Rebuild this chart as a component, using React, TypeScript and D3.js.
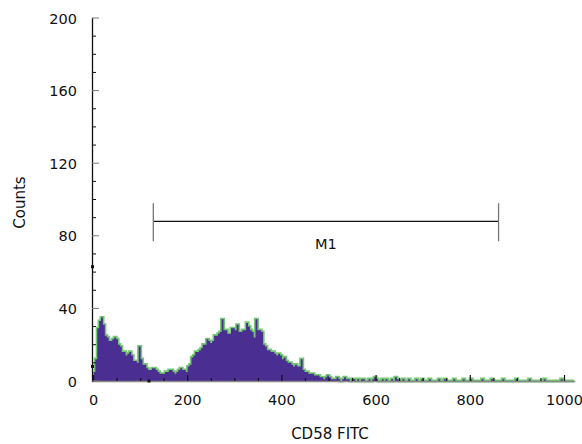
import React from 'react';
import * as d3 from 'd3';

// histogram counts, 4 channels per bin (channel 0..1023)
const counts = [
  5, 12, 29, 33, 35, 31, 25, 24, 22, 22, 23, 24, 23, 20, 19, 16,
  16, 14, 15, 16, 14, 11, 11, 10, 19, 12, 9, 9, 7, 6, 6, 7,
  7, 6, 5, 4, 4, 4, 5, 5, 6, 6, 5, 4, 5, 6, 7, 6,
  6, 5, 8, 9, 13, 14, 16, 16, 17, 18, 20, 20, 23, 22, 21, 22,
  25, 25, 26, 27, 34, 28, 28, 26, 26, 29, 29, 28, 31, 27, 27, 28,
  28, 32, 30, 28, 27, 24, 34, 28, 28, 27, 20, 19, 17, 17, 16, 16,
  15, 14, 15, 14, 12, 13, 11, 10, 10, 9, 8, 9, 8, 8, 12, 6,
  5, 5, 4, 4, 4, 3, 3, 3, 2, 2, 1, 2, 3, 2, 1, 1,
  1, 2, 1, 0, 1, 2, 1, 1, 0, 1, 1, 0, 1, 0, 1, 1,
  0, 0, 1, 0, 1, 2, 1, 0, 0, 1, 0, 1, 0, 0, 1, 0,
  2, 1, 0, 0, 1, 0, 0, 1, 0, 0, 0, 1, 0, 0, 1, 0,
  0, 0, 1, 0, 0, 0, 0, 1, 0, 0, 1, 0, 0, 0, 0, 1,
  0, 0, 0, 0, 1, 0, 0, 0, 1, 0, 0, 0, 0, 0, 1, 0,
  0, 0, 0, 1, 0, 0, 0, 0, 0, 1, 0, 0, 0, 0, 0, 0,
  1, 0, 0, 0, 0, 0, 0, 1, 0, 0, 0, 0, 0, 0, 0, 1,
  0, 0, 0, 0, 0, 0, 0, 0, 1, 0, 0, 0, 0, 0, 0, 0,
];
const binWidth = 4;
const xTickLabels = [0, 200, 400, 600, 800, 1000];
const yTickLabels = [0, 40, 80, 120, 160, 200];
// marker M1: channel range and height
const marker = { name: 'M1', from: 127, to: 860, at: 88 };
// stray dots of the original plot
const dots = [[0, 63], [0, 8], [120, 0]];

const W = 582;
const H = 444;
const FONT = 'DejaVu Sans, Verdana, sans-serif';

export default function App() {
  const x = d3.scaleLinear().domain([0, 1000]).range([93.5, 564.5]);
  const y = d3.scaleLinear().domain([0, 200]).range([381, 18]);

  const pts: [number, number][] = counts.map((c, i) => [i * binWidth, c]);
  pts.push([counts.length * binWidth - 20, 0]);

  const area = d3.area<[number, number]>()
    .x(d => x(d[0]))
    .y0(y(0))
    .y1(d => y(d[1]))
    .curve(d3.curveStepAfter);
  const line = d3.line<[number, number]>()
    .x(d => x(d[0]))
    .y(d => y(d[1]))
    .curve(d3.curveStepAfter);

  const yMinor = y.ticks(25);
  const xMinor = x.ticks(25);

  return (
    <svg width={W} height={H} style={{ position: 'absolute', left: 0, top: 0, background: '#fff' }}>
      {/* histogram */}
      <path d={line(pts) || ''} fill="none" stroke="#74c874" strokeWidth={3.2} />
      <path d={area(pts) || ''} fill="#4b2e91" />

      {/* x axis */}
      <line x1={92} x2={x(1023)} y1={381.5} y2={381.5} stroke="#888" strokeWidth={1.5} />
      {xMinor.map(t => (
        <line key={'xm' + t} x1={x(t)} x2={x(t)} y1={381}
          y2={t % 200 === 0 ? 375 : 378} stroke="#111" strokeWidth={1.2} />
      ))}
      {xTickLabels.map(t => (
        <text key={'xl' + t} x={x(t)} y={405} textAnchor="middle"
          fontFamily={FONT} fontSize={14.5} fill="#111">{t}</text>
      ))}
      <text x={330} y={439} textAnchor="middle" fontFamily={FONT} fontSize={15} fill="#111">CD58 FITC</text>

      {/* y axis */}
      <line x1={92.5} x2={92.5} y1={y(200)} y2={382} stroke="#111" strokeWidth={1.3} />
      {yMinor.map(t => (
        <line key={'ym' + t} x1={92} x2={t % 40 === 0 ? 99 : 96} y1={y(t)} y2={y(t)}
          stroke={t % 40 === 0 ? '#777' : '#111'} strokeWidth={1} />
      ))}
      {yTickLabels.map(t => (
        <text key={'yl' + t} x={77} y={y(t) + 5.5} textAnchor="end"
          fontFamily={FONT} fontSize={14.5} fill="#111">{t}</text>
      ))}
      <text transform={`translate(25,${y(100) + 3}) rotate(-90)`} textAnchor="middle"
        fontFamily={FONT} fontSize={15} fill="#111">Counts</text>

      {/* marker */}
      <line x1={x(marker.from)} x2={x(marker.to)} y1={y(marker.at)} y2={y(marker.at)} stroke="#111" strokeWidth={1.2} />
      {[marker.from, marker.to].map(m => (
        <line key={'mk' + m} x1={x(m)} x2={x(m)} y1={y(marker.at) - 18} y2={y(marker.at) + 20}
          stroke="#777" strokeWidth={1.3} />
      ))}
      <text x={x((marker.from + marker.to) / 2)} y={y(marker.at) + 28} textAnchor="middle"
        fontFamily={FONT} fontSize={14.5} fill="#111">{marker.name}</text>

      {dots.map((d, i) => (
        <rect key={'d' + i} x={x(d[0]) - 2.5} y={y(d[1]) - 1.5} width={3} height={3} fill="#111" />
      ))}
    </svg>
  );
}
